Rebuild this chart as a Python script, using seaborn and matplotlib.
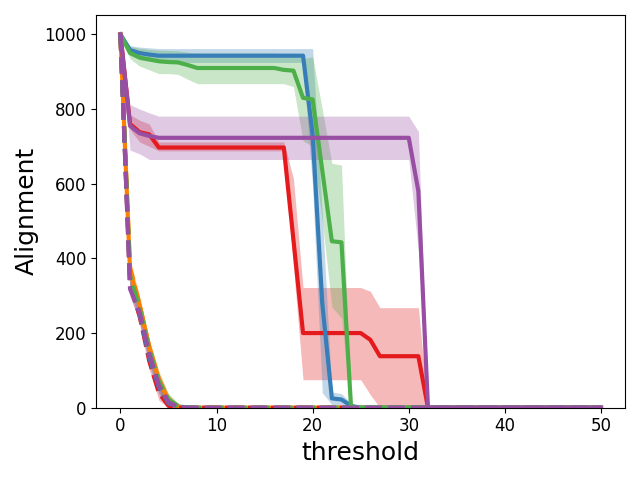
import matplotlib
matplotlib.use("Agg")
import matplotlib.pyplot as plt
import seaborn as sns
import pandas as pd

threshold = list(range(0, 51))

# ---- solid series (mean, lower, upper) ----
red_mean = [1000, 760, 738, 732] + [697]*14 + [450] + [200]*7 + [182] + [138]*5 + [0]*19
red_lo   = [1000, 745, 712, 700] + [688]*14 + [380] + [75]*7 + [35] + [0]*5 + [0]*19
red_hi   = [1000, 785, 770, 760] + [712]*14 + [614] + [322]*7 + [312] + [268]*5 + [0]*19

blue_mean = [1000, 958, 950, 946] + [943]*16 + [730, 280, 25, 22, 5] + [0]*26
blue_lo   = [1000, 945, 932, 928] + [925]*16 + [590, 40, 8, 5, 0] + [0]*26
blue_hi   = [1000, 970, 966, 964] + [962]*16 + [962, 520, 42, 38, 12] + [0]*26

green_mean = [1000, 950, 938, 933, 928, 926, 925, 918] + [910]*9 + [905, 903, 830, 826, 636, 446, 443] + [0]*27
green_lo   = [1000, 935, 915, 905, 895, 895, 893, 880] + [868]*9 + [868, 860, 715, 700, 500, 270, 240] + [0]*27
green_hi   = [1000, 968, 963, 960, 958, 957, 956, 952] + [950]*9 + [948, 945, 935, 940, 800, 655, 650] + [0]*27

purple_mean = [1000, 755, 735, 728] + [723]*27 + [580] + [0]*19
purple_lo   = [1000, 690, 680, 665] + [665]*27 + [420] + [0]*19
purple_hi   = [1000, 812, 800, 790] + [781]*27 + [740] + [0]*19

orange_mean = [1000, 366, 274, 162, 74, 20, 3] + [0]*44
orange_lo   = [1000, 345, 252, 140, 54, 6, 0] + [0]*44
orange_hi   = [1000, 388, 296, 184, 95, 35, 10] + [0]*44

# ---- dashed series (mean, lower, upper) ----
red_d_mean = [1000, 330, 245, 125, 40, 5, 0] + [0]*44
red_d_lo   = [1000, 305, 222, 102, 20, 0, 0] + [0]*44
red_d_hi   = [1000, 355, 268, 148, 60, 15, 2] + [0]*44

blue_d_mean = [1000, 340, 250, 135, 55, 12, 3, 1] + [0]*43
blue_d_lo   = [1000, 318, 228, 112, 35, 2, 0, 0] + [0]*43
blue_d_hi   = [1000, 362, 272, 158, 75, 25, 12, 5] + [0]*43

green_d_mean = [1000, 352, 266, 156, 70, 22, 5] + [0]*44
green_d_lo   = [1000, 330, 244, 133, 48, 8, 0] + [0]*44
green_d_hi   = [1000, 375, 290, 180, 92, 38, 12] + [0]*44

orange_d_mean = [1000, 376, 276, 162, 76, 20, 3] + [0]*44
orange_d_lo   = [1000, 355, 255, 140, 55, 6, 0] + [0]*44
orange_d_hi   = [1000, 398, 298, 185, 98, 35, 10] + [0]*44

purple_d_mean = [1000, 318, 255, 145, 60, 15, 2] + [0]*44
purple_d_lo   = [1000, 296, 232, 122, 40, 3, 0] + [0]*44
purple_d_hi   = [1000, 340, 278, 168, 80, 28, 8] + [0]*44

colors = {"red": "#e41a1c", "blue": "#377eb8", "green": "#4daf4a",
          "orange": "#ff7f00", "purple": "#984ea3"}

series = [
    ("orange", "solid", orange_mean, orange_lo, orange_hi),
    ("orange", "dashed", orange_d_mean, orange_d_lo, orange_d_hi),
    ("red", "solid", red_mean, red_lo, red_hi),
    ("red", "dashed", red_d_mean, red_d_lo, red_d_hi),
    ("blue", "solid", blue_mean, blue_lo, blue_hi),
    ("blue", "dashed", blue_d_mean, blue_d_lo, blue_d_hi),
    ("green", "solid", green_mean, green_lo, green_hi),
    ("green", "dashed", green_d_mean, green_d_lo, green_d_hi),
    ("purple", "solid", purple_mean, purple_lo, purple_hi),
    ("purple", "dashed", purple_d_mean, purple_d_lo, purple_d_hi),
]

fig, ax = plt.subplots(figsize=(6.4, 4.8), dpi=100)

for cname, style, mean, lo, hi in series:
    df = pd.DataFrame({"threshold": threshold, "Alignment": mean})
    ls = "-" if style == "solid" else (0, (4, 1.5))
    sns.lineplot(data=df, x="threshold", y="Alignment", color=colors[cname],
                 lw=3, linestyle=ls, ax=ax, errorbar=None)
    ax.fill_between(threshold, lo, hi, color=colors[cname], alpha=0.3, lw=0)

ax.set_xlim(-2.5, 52.5)
ax.set_ylim(0, 1052)
ax.set_xlabel("threshold", fontsize=18)
ax.set_ylabel("Alignment", fontsize=18)
ax.tick_params(labelsize=12)
fig.tight_layout()
fig.savefig("out.png", dpi=100)
